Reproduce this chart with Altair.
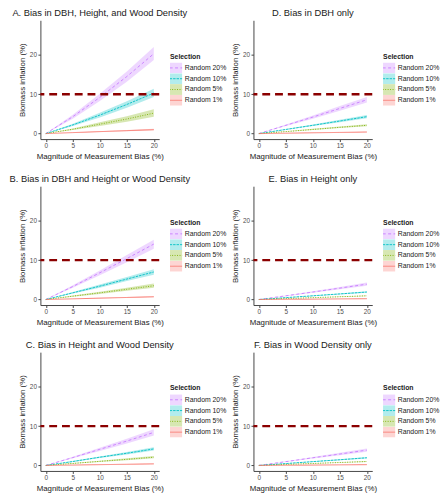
import altair as alt
import pandas as pd

# x positions (magnitude of measurement bias, %)
bias = [0, 5, 10, 15, 20]
selections = ["Random 20%", "Random 10%", "Random 5%", "Random 1%"]
colors = ["#C77CFF", "#00BFC4", "#7CAE00", "#F8766D"]
dashes = [[3, 2.5], [2.5, 1], [1, 1.5], [1, 0]]

titles = {
    "A": "A. Bias in DBH, Height, and Wood Density",
    "B": "B. Bias in DBH and Height or Wood Density",
    "C": "C. Bias in Height and Wood Density",
    "D": "D. Bias in DBH only",
    "E": "E. Bias in Height only",
    "F": "F. Bias in Wood Density only",
}

# mean, lower, upper biomass inflation (%) per panel and selection
A_mean = {"Random 20%": [0, 4.3, 9.2, 14.5, 20.3], "Random 10%": [0, 2.2, 4.7, 7.4, 10.3],
          "Random 5%": [0, 1.1, 2.4, 3.7, 5.2], "Random 1%": [0, 0.25, 0.5, 0.75, 1.0]}
A_lo = {"Random 20%": [0, 3.8, 8.3, 13.2, 18.7], "Random 10%": [0, 1.9, 4.1, 6.6, 9.3],
        "Random 5%": [0, 0.9, 1.9, 3.0, 4.3], "Random 1%": [0, 0.2, 0.4, 0.6, 0.8]}
A_hi = {"Random 20%": [0, 4.8, 10.1, 15.8, 22.0], "Random 10%": [0, 2.5, 5.3, 8.2, 11.4],
        "Random 5%": [0, 1.3, 2.9, 4.4, 6.2], "Random 1%": [0, 0.3, 0.6, 0.9, 1.2]}

B_mean = {"Random 20%": [0, 3.3, 6.8, 10.4, 14.1], "Random 10%": [0, 1.7, 3.4, 5.2, 7.0],
          "Random 5%": [0, 0.85, 1.7, 2.6, 3.5], "Random 1%": [0, 0.17, 0.35, 0.52, 0.7]}
B_lo = {"Random 20%": [0, 3.0, 6.2, 9.5, 12.9], "Random 10%": [0, 1.5, 3.0, 4.7, 6.3],
        "Random 5%": [0, 0.7, 1.4, 2.2, 3.0], "Random 1%": [0, 0.13, 0.28, 0.42, 0.55]}
B_hi = {"Random 20%": [0, 3.6, 7.4, 11.3, 15.2], "Random 10%": [0, 1.9, 3.8, 5.7, 7.7],
        "Random 5%": [0, 1.0, 2.0, 3.0, 4.1], "Random 1%": [0, 0.21, 0.42, 0.62, 0.85]}

C_mean = {"Random 20%": [0, 2.0, 4.1, 6.2, 8.4], "Random 10%": [0, 1.0, 2.1, 3.1, 4.2],
          "Random 5%": [0, 0.5, 1.05, 1.55, 2.1], "Random 1%": [0, 0.1, 0.2, 0.3, 0.4]}
C_lo = {"Random 20%": [0, 1.8, 3.7, 5.6, 7.6], "Random 10%": [0, 0.9, 1.9, 2.8, 3.8],
        "Random 5%": [0, 0.45, 0.9, 1.35, 1.8], "Random 1%": [0, 0.08, 0.16, 0.24, 0.32]}
C_hi = {"Random 20%": [0, 2.2, 4.5, 6.8, 9.2], "Random 10%": [0, 1.1, 2.3, 3.4, 4.6],
        "Random 5%": [0, 0.6, 1.2, 1.8, 2.4], "Random 1%": [0, 0.12, 0.24, 0.36, 0.48]}

D_mean = {"Random 20%": [0, 2.1, 4.2, 6.4, 8.6], "Random 10%": [0, 1.05, 2.1, 3.2, 4.3],
          "Random 5%": [0, 0.5, 1.05, 1.6, 2.1], "Random 1%": [0, 0.1, 0.2, 0.3, 0.4]}
D_lo = {"Random 20%": [0, 1.9, 3.8, 5.8, 7.9], "Random 10%": [0, 0.95, 1.9, 2.9, 3.9],
        "Random 5%": [0, 0.45, 0.9, 1.4, 1.85], "Random 1%": [0, 0.08, 0.16, 0.24, 0.32]}
D_hi = {"Random 20%": [0, 2.3, 4.6, 7.0, 9.3], "Random 10%": [0, 1.15, 2.3, 3.5, 4.7],
        "Random 5%": [0, 0.6, 1.2, 1.8, 2.4], "Random 1%": [0, 0.12, 0.24, 0.36, 0.48]}

E_mean = {"Random 20%": [0, 0.95, 1.9, 2.9, 3.9], "Random 10%": [0, 0.48, 0.95, 1.43, 1.9],
          "Random 5%": [0, 0.23, 0.47, 0.7, 0.95], "Random 1%": [0, 0.05, 0.1, 0.15, 0.2]}
E_lo = {"Random 20%": [0, 0.85, 1.7, 2.6, 3.5], "Random 10%": [0, 0.43, 0.85, 1.3, 1.7],
        "Random 5%": [0, 0.2, 0.42, 0.63, 0.85], "Random 1%": [0, 0.04, 0.08, 0.12, 0.16]}
E_hi = {"Random 20%": [0, 1.05, 2.1, 3.2, 4.3], "Random 10%": [0, 0.53, 1.05, 1.56, 2.1],
        "Random 5%": [0, 0.26, 0.52, 0.77, 1.05], "Random 1%": [0, 0.06, 0.12, 0.18, 0.24]}

F_mean = {"Random 20%": [0, 0.97, 1.95, 2.9, 3.9], "Random 10%": [0, 0.48, 0.97, 1.45, 1.95],
          "Random 5%": [0, 0.25, 0.5, 0.75, 1.0], "Random 1%": [0, 0.05, 0.1, 0.15, 0.2]}
F_lo = {"Random 20%": [0, 0.87, 1.75, 2.6, 3.5], "Random 10%": [0, 0.43, 0.87, 1.3, 1.75],
        "Random 5%": [0, 0.22, 0.45, 0.67, 0.9], "Random 1%": [0, 0.04, 0.08, 0.12, 0.16]}
F_hi = {"Random 20%": [0, 1.07, 2.15, 3.2, 4.3], "Random 10%": [0, 0.53, 1.07, 1.6, 2.15],
        "Random 5%": [0, 0.28, 0.55, 0.83, 1.1], "Random 1%": [0, 0.06, 0.12, 0.18, 0.24]}

panels = {"A": (A_mean, A_lo, A_hi), "B": (B_mean, B_lo, B_hi), "C": (C_mean, C_lo, C_hi),
          "D": (D_mean, D_lo, D_hi), "E": (E_mean, E_lo, E_hi), "F": (F_mean, F_lo, F_hi)}

threshold = [10]

W, H = 121, 121

x_enc = alt.X("bias:Q", scale=alt.Scale(domain=[-1, 21], nice=False, zero=False),
              axis=alt.Axis(title="Magnitude of Measurement Bias (%)", values=[0, 5, 10, 15, 20]))
y_scale = alt.Scale(domain=[-1.4, 28.8], nice=False, zero=False)
y_axis = alt.Axis(title="Biomass inflation (%)", values=[0, 10, 20])

line_scale = alt.Scale(domain=selections, range=colors)
dash_scale = alt.Scale(domain=selections, range=dashes)
fill_scale = alt.Scale(range=colors)

# legend key shapes: filled box, and a horizontal line with the same bounding box
key_box = "M-1.15,-1H1.15V1H-1.15Z"
key_line = "M-1.15,-1M-1.15,0H1.15M1.15,1"

common_leg = dict(orient="none", legendY=33, title="Selection", clipHeight=11,
                  symbolSize=121, rowPadding=0, labelOffset=3, titlePadding=3,
                  labelFontSize=7, titleFontSize=7, titleFontWeight="bold")
fill_leg = alt.Legend(symbolType=key_box, symbolOpacity=0.3, symbolStrokeWidth=0.9,
                      symbolStrokeColor="transparent", legendX=W + 11,
                      labelOpacity=0, titleOpacity=0, **common_leg)
line_leg = alt.Legend(symbolType=key_line, symbolStrokeWidth=0.9, legendX=W + 11, **common_leg)


def make_panel(key):
    m, lo, hi = panels[key]
    rows = []
    for s in selections:
        for i, b in enumerate(bias):
            rows.append({"bias": b, "sel": s, "mean": m[s][i], "lo": lo[s][i], "hi": hi[s][i]})
    df = pd.DataFrame(rows)
    base = alt.Chart(df)
    band = base.mark_area(opacity=0.3).encode(
        x=x_enc,
        y=alt.Y("lo:Q", scale=y_scale, axis=y_axis),
        y2="hi:Q",
        fill=alt.Fill("sel:N", scale=fill_scale, sort=selections, legend=fill_leg),
    )
    line = base.mark_line(strokeWidth=0.9).encode(
        x=x_enc,
        y=alt.Y("mean:Q", scale=y_scale, axis=y_axis),
        stroke=alt.Stroke("sel:N", scale=line_scale, legend=line_leg),
        strokeDash=alt.StrokeDash("sel:N", scale=dash_scale, legend=line_leg),
    )
    hline = alt.Chart(pd.DataFrame({"y": threshold})).mark_rule(
        color="#8B0000", strokeWidth=2.4, strokeDash=[8, 5]
    ).encode(y=alt.Y("y:Q", scale=y_scale))
    return alt.layer(band, line, hline).properties(
        width=W, height=H,
        title=alt.TitleParams(titles[key], fontSize=9.5, fontWeight="normal", anchor="middle",
                              frame="group", offset=3, color="#1a1a1a"),
    )


order = ["A", "D", "B", "E", "C", "F"]
chart = alt.concat(*[make_panel(k) for k in order], columns=2, bounds="flush",
                   spacing={"row": 48, "column": 96}).resolve_scale(
    fill="independent", stroke="independent", strokeDash="independent"
).resolve_legend(
    fill="independent", stroke="independent", strokeDash="independent"
).properties(
    padding={"left": 1, "top": -5, "right": 0, "bottom": 0}
).configure(
    font="Liberation Sans"
).configure_view(stroke=None).configure_axis(
    grid=False, labelFontSize=6.5, labelColor="#4d4d4d", titleFontSize=8,
    titleFontWeight="normal", titleColor="#1a1a1a", domainColor="#444",
    tickColor="#444", tickSize=2.5, labelPadding=1.5, titlePadding=3, domainWidth=1,
).configure_legend(labelColor="#1a1a1a", titleColor="#1a1a1a")

chart.save("out.html", embed_options={"renderer": "svg", "actions": False})
